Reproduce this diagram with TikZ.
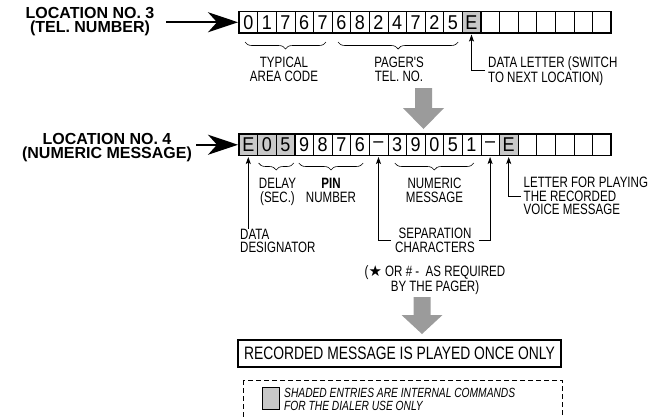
\documentclass[tikz,border=0pt]{standalone}
\usepackage{fontspec}
\setmainfont{Liberation Sans}
\newfontfamily\condfont[FakeStretch=0.77]{Liberation Sans}
\newfontfamily\digitfont[FakeStretch=0.9]{Liberation Sans}
\newfontfamily\symfont{DejaVu Sans}
\usetikzlibrary{arrows.meta,decorations.pathreplacing,calc}
\definecolor{cellgray}{RGB}{200,200,200}
\definecolor{arrowgray}{RGB}{155,155,155}
\begin{document}
\begin{tikzpicture}[x=1pt,y=-1pt,
  cell/.style={draw, line width=0.6pt, minimum width=18.6pt, minimum height=21.5pt, inner sep=0pt, outer sep=0pt, font=\digitfont\fontsize{20}{20}\selectfont},
  plaincell/.style={},
  graycell/.style={fill=cellgray, line width=1pt},
  lbl/.style={font=\condfont\fontsize{15}{13.6}\selectfont, align=center, inner xsep=3pt, inner ysep=0pt},
  loclbl/.style={font=\bfseries\fontsize{16}{14.5}\selectfont, align=center, inner sep=0pt},
  uparrow/.style={line width=0.8pt, -{Stealth[length=7pt,width=5pt,inset=1.5pt]}, shorten >=1.5pt},
  bigarrow/.style={line width=2pt, -{Stealth[length=30pt,width=20pt,inset=9pt]}, shorten >=1pt},
  brace/.style={decorate, decoration={brace, mirror, amplitude=7pt}, line width=0.6pt},
  grayarrow/.style={fill=arrowgray},
]
\useasboundingbox (0,0) rectangle (657,416);

% ---- row 1 : location 3
\foreach \ch/\st [count=\i from 0] in {0/plaincell,1/plaincell,7/plaincell,6/plaincell,7/plaincell,6/plaincell,8/plaincell,2/plaincell,4/plaincell,7/plaincell,2/plaincell,5/plaincell,E/graycell,/plaincell,/plaincell,/plaincell,/plaincell,/plaincell,/plaincell,/plaincell}
  \node[cell,\st] (r1c\i) at ({239+(\i+0.5)*18.6},22.25) {\ch};
\draw[line width=1.2pt] (r1c0.north west) rectangle (r1c19.south east);

% ---- row 2 : location 4
\foreach \ch/\st [count=\i from 0] in {E/graycell,0/graycell,5/graycell,9/plaincell,8/plaincell,7/plaincell,6/plaincell,\textendash/plaincell,3/plaincell,9/plaincell,0/plaincell,5/plaincell,1/plaincell,\textendash/plaincell,E/graycell,/plaincell,/plaincell,/plaincell,/plaincell,/plaincell}
  \node[cell,\st] (r2c\i) at ({239+(\i+0.5)*18.6},144.75) {\ch};
\draw[line width=1.2pt] (r2c0.north west) rectangle (r2c19.south east);

% ---- location labels and arrows
\node[loclbl, anchor=north] (loc3) at (90,7) {LOCATION NO. 3\\(TEL. NUMBER)};
\node[loclbl, anchor=north] (loc4) at (107,133) {LOCATION NO. 4\\(NUMERIC MESSAGE)};
\draw[bigarrow] ($(loc3.east |- r1c0.west)+(12,0)$) -- (r1c0.west);
\draw[bigarrow] ($(loc4.east |- r2c0.west)+(4,0)$) -- (r2c0.west);

% ---- row 1 annotations
\draw[brace] ($(r1c0.south west)+(6,9)$) -- ($(r1c4.south east)+(-6,9)$);
\draw[brace] ($(r1c5.south west)+(6,9)$) -- ($(r1c11.south east)+(-4,9)$);
\node[lbl, anchor=north] (area) at (284,57) {TYPICAL\\AREA CODE};
\node[lbl, anchor=north] (pager) at (399,57) {PAGER'S\\TEL. NO.};
\node[lbl, anchor=north west, align=left] (dletter) at (485,56) {DATA LETTER (SWITCH\\TO NEXT LOCATION)};
\draw[uparrow] (dletter.west) -| (r1c12.south);

% ---- gray arrow 1
\fill[grayarrow] (415,88) -- (432,88) -- (432,108) -- (444,108) -- (423.5,129) -- (403,108) -- (415,108) -- cycle;

% ---- row 2 annotations
\draw[brace] ($(r2c1.south west)+(1,7.5)$) -- ($(r2c2.south east)+(-1,7.5)$);
\draw[brace] ($(r2c3.south west)+(4,7.5)$) -- ($(r2c6.south east)+(-6,7.5)$);
\draw[brace] ($(r2c8.south west)+(7,7.5)$) -- ($(r2c12.south east)+(-7,7.5)$);
\node[lbl, anchor=north] (delay) at (277.5,178) {DELAY\\(SEC.)};
\node[lbl, anchor=north] (pin) at (331,178) {{\bfseries PIN}\\NUMBER};
\node[lbl, anchor=north] (numeric) at (434.5,178) {NUMERIC\\MESSAGE};
\node[lbl, anchor=north west, align=left] (letter) at (520.5,177) {LETTER FOR PLAYING\\THE RECORDED\\VOICE MESSAGE};
\draw[uparrow] (letter.west) -| (r2c14.south);
\node[lbl, anchor=north west, align=left] (desig) at (237,228.5) {DATA\\DESIGNATOR};
\draw[uparrow] (r2c0.south |- desig.north) -- (r2c0.south);
\node[lbl, anchor=north, inner xsep=4pt] (sep) at (435,228) {SEPARATION\\CHARACTERS};
\draw[uparrow] (sep.west) -| (r2c7.south);
\draw[uparrow] (sep.east) -| (r2c13.south);
\node[lbl, anchor=north] (note) at (435,265) {({\symfont ★}\ OR \#\ -\ \ AS REQUIRED\\BY THE PAGER)};

% ---- gray arrow 2
\fill[grayarrow] (413.5,297) -- (430.5,297) -- (430.5,315) -- (442.5,315) -- (422,334) -- (401.5,315) -- (413.5,315) -- cycle;

% ---- result box
\node[draw, line width=1.2pt, minimum width=323pt, minimum height=27pt, inner sep=0pt, font=\condfont\fontsize{18}{18}\selectfont] (rec) at (399.5,353.5) {RECORDED MESSAGE IS PLAYED ONCE ONLY};

% ---- legend
\draw[dash pattern=on 5pt off 3pt, line width=0.7pt] (243,380) rectangle (562,434);
\node[draw, fill=cellgray, line width=1pt, minimum width=17.5pt, minimum height=22pt, inner sep=0pt] (legsq) at (270.75,398) {};
\node[anchor=north west, align=left, inner sep=0pt, font=\condfont\itshape\fontsize{13.3}{13.5}\selectfont] (legtxt) at (284,388) {SHADED ENTRIES ARE INTERNAL COMMANDS\\FOR THE DIALER USE ONLY};
\end{tikzpicture}
\end{document}
